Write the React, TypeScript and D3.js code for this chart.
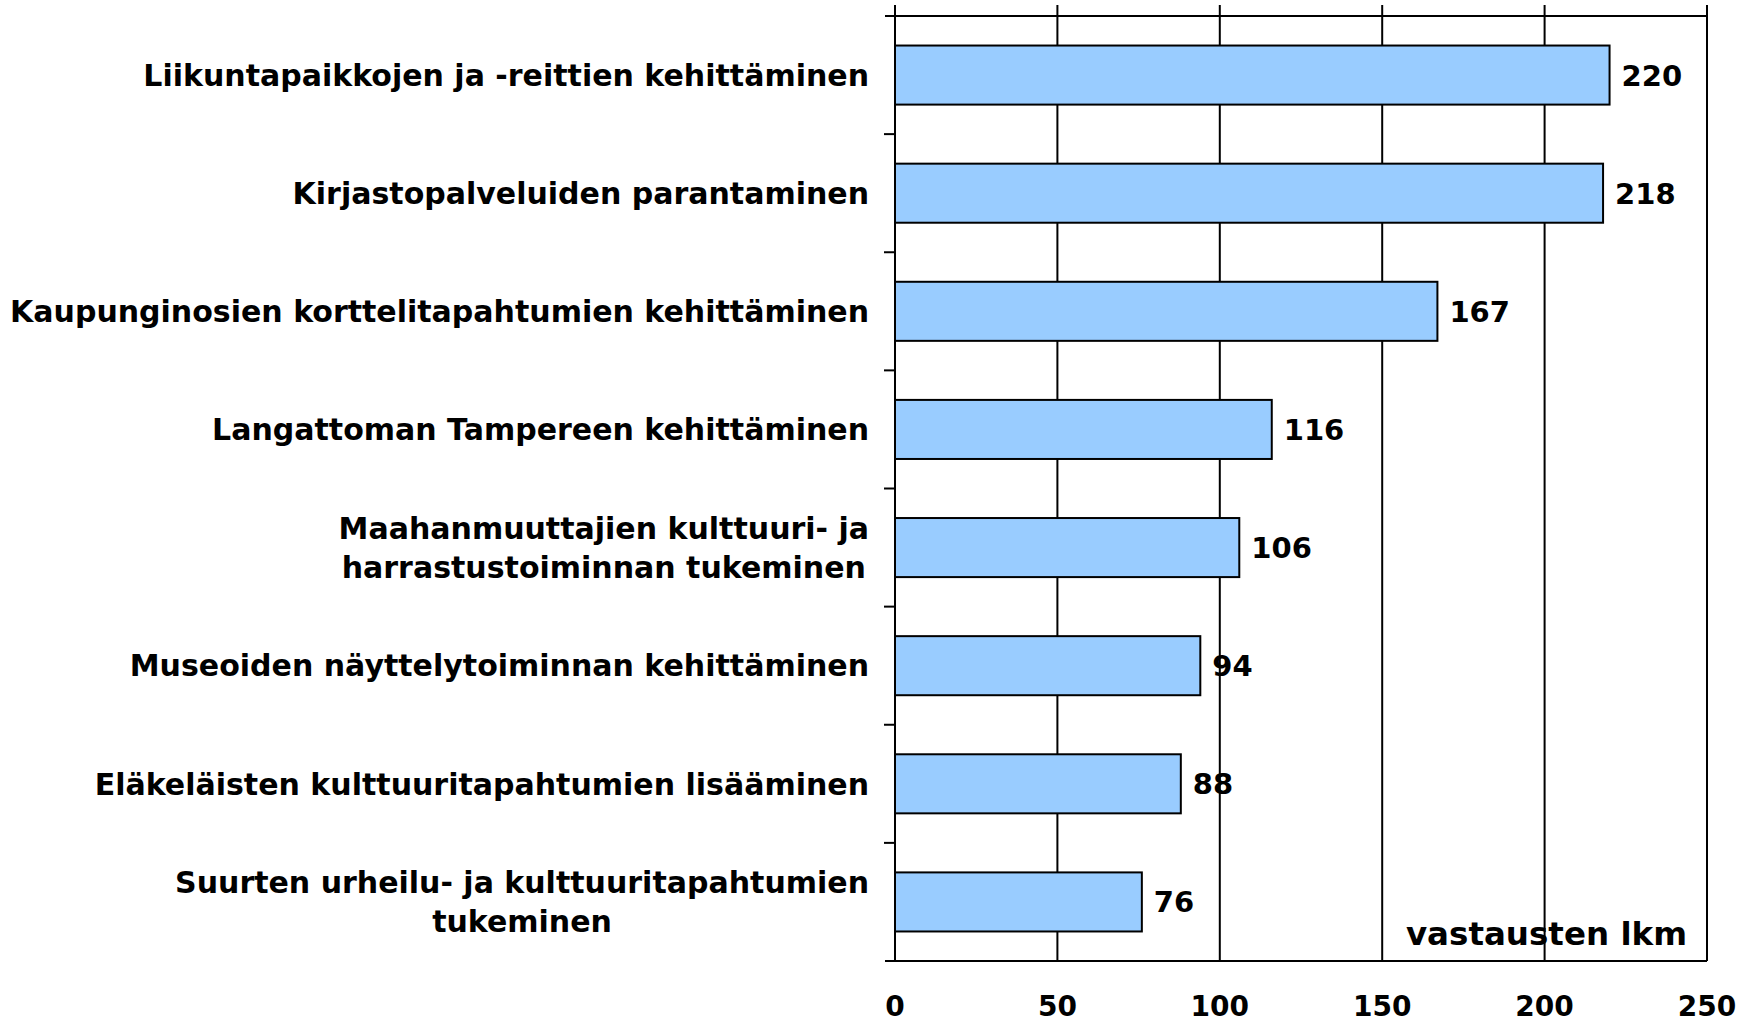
import React from 'react';
import * as d3 from 'd3';

const WIDTH = 1755;
const HEIGHT = 1023;
const MARGIN = { top: 16, bottom: 62, left: 895, right: 48 };
const FONT = "'DejaVu Sans', Verdana, sans-serif";

// category labels, split into lines as in the original
const CATEGORIES = [
    ["Liikuntapaikkojen ja -reittien kehittäminen"],
    ["Kirjastopalveluiden parantaminen"],
    ["Kaupunginosien korttelitapahtumien kehittäminen"],
    ["Langattoman Tampereen kehittäminen"],
    ["Maahanmuuttajien kulttuuri- ja", "harrastustoiminnan tukeminen"],
    ["Museoiden näyttelytoiminnan kehittäminen"],
    ["Eläkeläisten kulttuuritapahtumien lisääminen"],
    ["Suurten urheilu- ja kulttuuritapahtumien", "tukeminen"],
];
const VALUES = [220, 218, 167, 116, 106, 94, 88, 76];
const TICKS = [0, 50, 100, 150, 200, 250];
const AXIS_TITLE = "vastausten lkm";

export default function App() {
    const x = d3.scaleLinear()
        .domain([0, 250])
        .range([MARGIN.left, WIDTH - MARGIN.right]);

    const y = d3.scaleBand<number>()
        .domain(d3.range(CATEGORIES.length))
        .range([MARGIN.top, HEIGHT - MARGIN.bottom])
        .paddingInner(0.5)
        .paddingOuter(0.25);

    const top = MARGIN.top;
    const bottom = HEIGHT - MARGIN.bottom;
    const step = y.step();
    const boundaries = d3.range(1, CATEGORIES.length).map(i => top + i * step);

    // right edge of the label block
    const labelRight = MARGIN.left - 26;

    return (
        <svg width={WIDTH} height={HEIGHT} style={{ position: "absolute", left: 0, top: 0, background: "#fff" }}
            fontFamily={FONT} fontWeight="bold">
            {/* gridlines + top ticks */}
            {TICKS.map(t => (
                <line key={"g" + t} x1={x(t)} x2={x(t)} y1={top - 11} y2={bottom}
                    stroke="#000" strokeWidth={2} />
            ))}
            {/* top and bottom lines */}
            <line x1={MARGIN.left - 10} x2={x(250)} y1={top} y2={top} stroke="#000" strokeWidth={2} />
            <line x1={MARGIN.left - 10} x2={x(250)} y1={bottom} y2={bottom} stroke="#000" strokeWidth={2} />
            {/* category ticks */}
            {boundaries.map((b, i) => (
                <line key={"t" + i} x1={MARGIN.left - 11} x2={MARGIN.left} y1={b} y2={b}
                    stroke="#000" strokeWidth={2} />
            ))}

            {/* bars */}
            {VALUES.map((v, i) => (
                <rect key={"b" + i} x={x(0)} y={y(i)} width={x(v) - x(0)} height={y.bandwidth()}
                    fill="#99CCFF" stroke="#000" strokeWidth={2} />
            ))}

            {/* value labels */}
            {VALUES.map((v, i) => (
                <text key={"v" + i} x={x(v) + 12} y={(y(i) as number) + y.bandwidth() / 2}
                    dy="0.36em" fontSize={29} fill="#000">{v}</text>
            ))}

            {/* category labels */}
            {CATEGORIES.map((lines, i) => {
                const cy = (y(i) as number) + y.bandwidth() / 2;
                const lh = 39;
                if (lines.length === 1) {
                    return (
                        <text key={"c" + i} x={labelRight} y={cy} dy="0.36em" textAnchor="end"
                            fontSize={30} fill="#000">{lines[0]}</text>
                    );
                }
                return (
                    <text key={"c" + i} y={cy} textAnchor="middle" fontSize={30} fill="#000"
                        ref={el => {
                            if (!el) return;
                            const spans = el.querySelectorAll("tspan");
                            let w = 0;
                            spans.forEach(s => { w = Math.max(w, (s as SVGTSpanElement).getComputedTextLength()); });
                            const cx = labelRight - w / 2;
                            spans.forEach(s => s.setAttribute("x", String(cx)));
                        }}>
                        {lines.map((l, j) => (
                            <tspan key={j} x={labelRight} y={cy + (j - (lines.length - 1) / 2) * lh} dy="0.36em">{l}</tspan>
                        ))}
                    </text>
                );
            })}

            {/* axis title */}
            <text x={x(250) - 20} y={bottom - 16} textAnchor="end" fontSize={32.5} fill="#000">{AXIS_TITLE}</text>

            {/* tick labels */}
            {TICKS.map(t => (
                <text key={"l" + t} x={x(t)} y={HEIGHT - 7} textAnchor="middle" fontSize={28} fill="#000">{t}</text>
            ))}
        </svg>
    );
}
